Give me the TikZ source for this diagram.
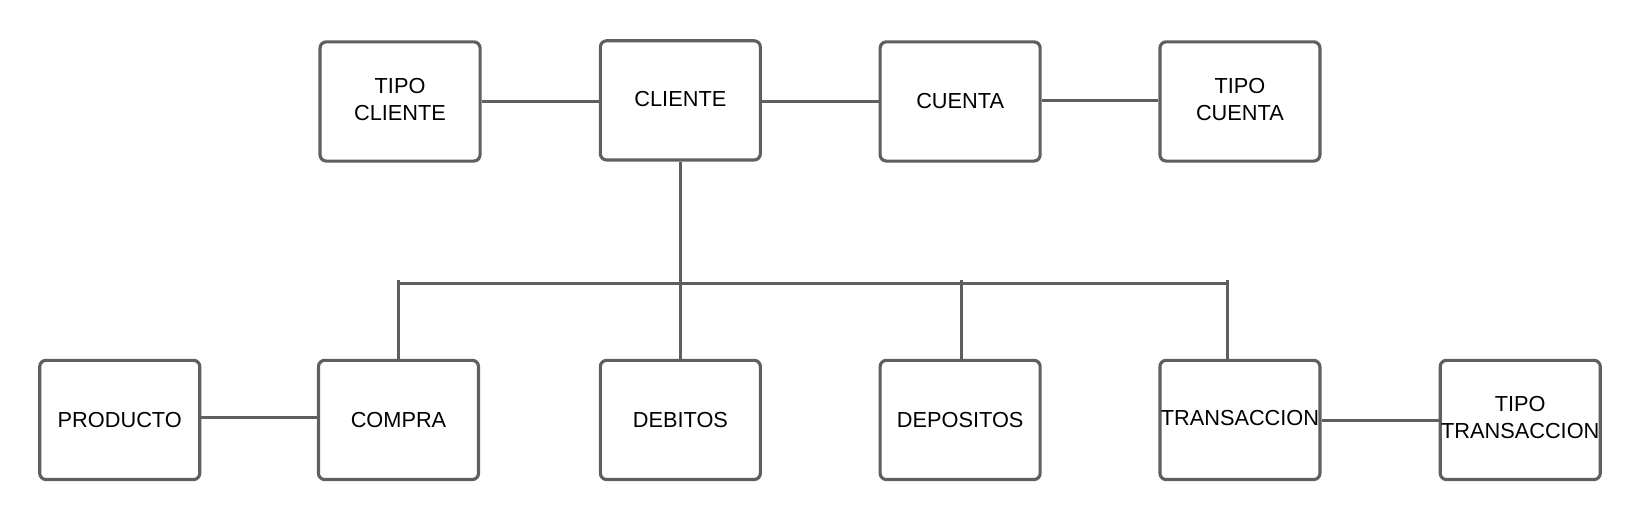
\documentclass[tikz,border=0pt]{standalone}
\usepackage{fontspec}
\setmainfont{Liberation Sans}
\definecolor{edge}{HTML}{5F5F5F}
\begin{document}
\begin{tikzpicture}[x=0.5pt,y=-0.5pt,
  box/.style={draw=edge,line width=1.5pt,rounded corners=3pt,fill=white,
    minimum width=76.5pt,minimum height=57pt,inner sep=0pt,align=center,
    font=\fontsize{10.4}{13}\selectfont,text=black},
  link/.style={draw=edge,line width=1.5pt}]
\useasboundingbox (0,0) rectangle (1568,497);
% top row
\node[box] (tc) at (382.5,97) {\raisebox{2pt}{\begin{tabular}{@{}c@{}}TIPO\\CLIENTE\end{tabular}}};
\node[box] (cl) at (650.5,96) {\raisebox{1pt}{CLIENTE}};
\node[box] (cu) at (918,97) {CUENTA};
\node[box] (tcu) at (1185.5,97) {\raisebox{2pt}{\begin{tabular}{@{}c@{}}TIPO\\CUENTA\end{tabular}}};
% bottom row
\node[box] (pr) at (114.5,401.5) {PRODUCTO};
\node[box] (co) at (381,401.5) {COMPRA};
\node[box] (de) at (650.5,401.5) {DEBITOS};
\node[box] (dp) at (918,401.5) {DEPOSITOS};
\node[box] (tr) at (1185.5,401.5) {\raisebox{1.5pt}{TRANSACCION}};
\node[box] (ttr) at (1453.5,401.5) {\raisebox{2pt}{\begin{tabular}{@{}c@{}}TIPO\\TRANSACCION\end{tabular}}};
% bus coordinates
\coordinate (bl) at (381,271);
\coordinate (br) at (1174,271);
\coordinate (bdp) at (919,271);
% connectors
\draw[link] (tc.east |- 0,97) -- (cl.west |- 0,97);
\draw[link] (cl.east |- 0,97) -- (cu.west |- 0,97);
\draw[link] (cu.east |- 0,96) -- (tcu.west |- 0,96);
\draw[link] (pr.east |- 0,399) -- (co.west |- 0,399);
\draw[link] (tr.east |- 0,402) -- (ttr.west |- 0,402);
\draw[link] (cl.south) -- (de.north);
\draw[link] (bl) -- (br);
\draw[link] ([yshift=1.5pt]bl) -- (co.north);
\draw[link] ([yshift=1.5pt]bdp) -- (dp.north -| bdp);
\draw[link] ([yshift=1.5pt]br) -- (tr.north -| br);
\end{tikzpicture}
\end{document}
